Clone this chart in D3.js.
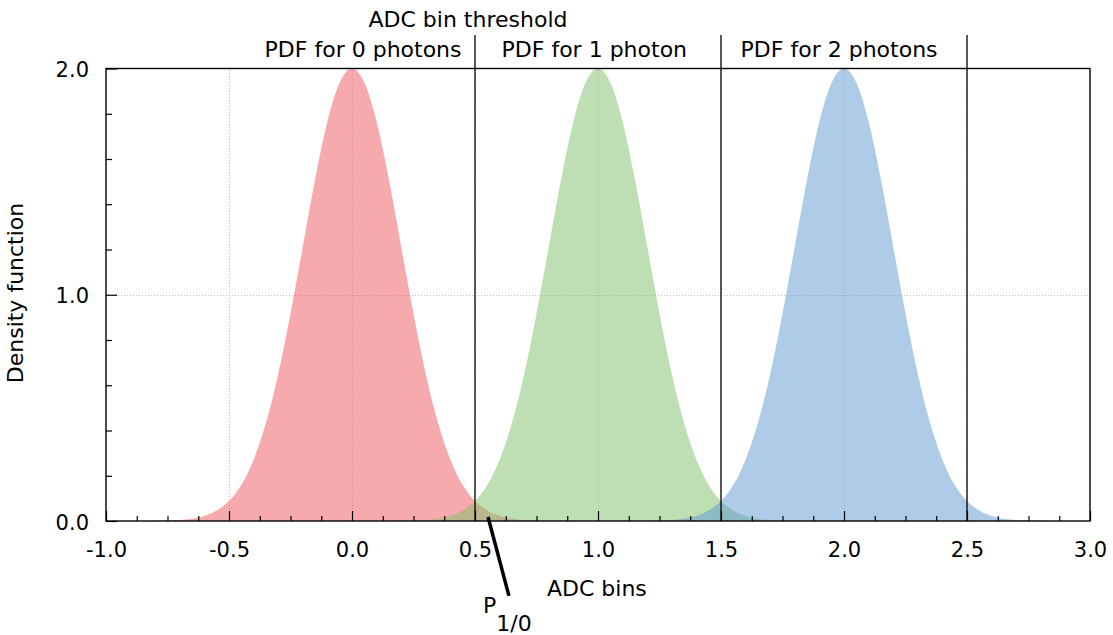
<!DOCTYPE html>
<html>
<head>
<meta charset="utf-8">
<script src="https://cdn.jsdelivr.net/npm/d3@7"></script>
<style>
  html, body { margin: 0; padding: 0; background: #fff; }
  svg { display: block; font-family: "DejaVu Sans", sans-serif; }
</style>
</head>
<body>
<svg id="chart" width="1113" height="635"></svg>
<script>
// ---- data ----
const adcValues = [
  -1.00,-0.95,-0.90,-0.85,-0.80,-0.75,-0.70,-0.65,-0.60,-0.55,-0.50,-0.45,-0.40,-0.35,-0.30,-0.25,-0.20,-0.15,-0.10,-0.05,
   0.00, 0.05, 0.10, 0.15, 0.20, 0.25, 0.30, 0.35, 0.40, 0.45, 0.50, 0.55, 0.60, 0.65, 0.70, 0.75, 0.80, 0.85, 0.90, 0.95,
   1.00, 1.05, 1.10, 1.15, 1.20, 1.25, 1.30, 1.35, 1.40, 1.45, 1.50, 1.55, 1.60, 1.65, 1.70, 1.75, 1.80, 1.85, 1.90, 1.95,
   2.00, 2.05, 2.10, 2.15, 2.20, 2.25, 2.30, 2.35, 2.40, 2.45, 2.50, 2.55, 2.60, 2.65, 2.70, 2.75, 2.80, 2.85, 2.90, 2.95,
   3.00
];
const pdf0Photons = [
  0,0,0,0,0.001,0.002,0.004,0.010,0.022,0.046,0.088,0.159,0.271,0.433,0.649,0.916,1.213,1.510,1.765,1.938,
  2.000,1.938,1.765,1.510,1.213,0.916,0.649,0.433,0.271,0.159,0.088,0.046,0.022,0.010,0.004,0.002,0.001,0,0,0,
  0,0,0,0,0,0,0,0,0,0,0,0,0,0,0,0,0,0,0,0,
  0,0,0,0,0,0,0,0,0,0,0,0,0,0,0,0,0,0,0,0,
  0
];
const pdf1Photon = [
  0,0,0,0,0,0,0,0,0,0,0,0,0,0,0,0,0,0,0,0,
  0,0,0,0,0.001,0.002,0.004,0.010,0.022,0.046,0.088,0.159,0.271,0.433,0.649,0.916,1.213,1.510,1.765,1.938,
  2.000,1.938,1.765,1.510,1.213,0.916,0.649,0.433,0.271,0.159,0.088,0.046,0.022,0.010,0.004,0.002,0.001,0,0,0,
  0,0,0,0,0,0,0,0,0,0,0,0,0,0,0,0,0,0,0,0,
  0
];
const pdf2Photons = [
  0,0,0,0,0,0,0,0,0,0,0,0,0,0,0,0,0,0,0,0,
  0,0,0,0,0,0,0,0,0,0,0,0,0,0,0,0,0,0,0,0,
  0,0,0,0,0.001,0.002,0.004,0.010,0.022,0.046,0.088,0.159,0.271,0.433,0.649,0.916,1.213,1.510,1.765,1.938,
  2.000,1.938,1.765,1.510,1.213,0.916,0.649,0.433,0.271,0.159,0.088,0.046,0.022,0.010,0.004,0.002,0.001,0,0,0,
  0
];
const seriesNames = ["PDF for 0 photons", "PDF for 1 photon", "PDF for 2 photons"];
const seriesLabelX = [0.045, 0.985, 1.98];
const thresholds = [0.5, 1.5, 2.5];
const xTickValues = [-1.0, -0.5, 0.0, 0.5, 1.0, 1.5, 2.0, 2.5, 3.0];
const xTickLabels = ["-1.0", "-0.5", "0.0", "0.5", "1.0", "1.5", "2.0", "2.5", "3.0"];
const yTickValues = [0.0, 1.0, 2.0];
const yTickLabels = ["0.0", "1.0", "2.0"];
const xGridValues = [-0.5, 0.0, 0.5, 1.0, 1.5, 2.0, 2.5];
const yGridValues = [1.0];
const pointerFrom = [0.553, 0.018];
const pointerTo = [0.638, -0.331];

// ---- layout ----
const svg = d3.select("#chart");
const L = 106, R = 1090, T = 68.5, B = 521;
const x = d3.scaleLinear().domain([-1, 3]).range([L, R]);
const y = d3.scaleLinear().domain([0, 2]).range([B, T]);
const colors = ["#ee555c", "#7dbf69", "#5d97d1"];
const series = [pdf0Photons, pdf1Photon, pdf2Photons];

// grid
const grid = svg.append("g").attr("stroke", "#bdbdbd").attr("stroke-width", 1).attr("stroke-dasharray", "1,2");
grid.selectAll("line.gx").data(xGridValues).join("line")
  .attr("x1", d => Math.round(x(d)) + 0.5).attr("x2", d => Math.round(x(d)) + 0.5)
  .attr("y1", B).attr("y2", T);
grid.selectAll("line.gy").data(yGridValues).join("line")
  .attr("x1", L).attr("x2", R)
  .attr("y1", d => Math.round(y(d)) + 0.5).attr("y2", d => Math.round(y(d)) + 0.5);

// areas
const area = d3.area()
  .x((d, i) => x(adcValues[i]))
  .y0(B)
  .y1(d => y(d))
  .curve(d3.curveMonotoneX);
svg.append("g").selectAll("path").data(series).join("path")
  .attr("d", d => area(d))
  .attr("fill", (d, i) => colors[i])
  .attr("fill-opacity", 0.5);

// axes (ticks inward)
const xMinor = d3.range(-1, 3.0001, 0.125).filter(v => Math.abs(v * 2 - Math.round(v * 2)) > 1e-6);
const yMinor = d3.range(0, 2.0001, 0.2).filter(v => Math.abs(v - Math.round(v)) > 1e-6);

const xAxisMajor = d3.axisBottom(x).tickValues(xTickValues).tickFormat((d, i) => xTickLabels[i]).tickSize(-10).tickPadding(0);
const gx = svg.append("g").attr("transform", `translate(0,${B})`).call(xAxisMajor);
gx.select(".domain").remove();
gx.selectAll("line").attr("stroke", "#000").attr("stroke-width", 1.2);
gx.selectAll("text").attr("font-size", 21).attr("font-family", "DejaVu Sans").attr("fill", "#000")
  .attr("y", 36).attr("dy", 0);
const gxm = svg.append("g").attr("transform", `translate(0,${B})`)
  .call(d3.axisBottom(x).tickValues(xMinor).tickFormat("").tickSize(-5));
gxm.select(".domain").remove();
gxm.selectAll("line").attr("stroke", "#000").attr("stroke-width", 1.2);

const yAxisMajor = d3.axisLeft(y).tickValues(yTickValues).tickFormat((d, i) => yTickLabels[i]).tickSize(-11).tickPadding(0);
const gy = svg.append("g").attr("transform", `translate(${L},0)`).call(yAxisMajor);
gy.select(".domain").remove();
gy.selectAll("line").attr("stroke", "#000").attr("stroke-width", 1.2);
gy.selectAll("text").attr("font-size", 21).attr("font-family", "DejaVu Sans").attr("fill", "#000")
  .attr("x", -17).attr("dy", 0).attr("y", 8);
const gym = svg.append("g").attr("transform", `translate(${L},0)`)
  .call(d3.axisLeft(y).tickValues(yMinor).tickFormat("").tickSize(-6));
gym.select(".domain").remove();
gym.selectAll("line").attr("stroke", "#000").attr("stroke-width", 1.2);

// frame
svg.append("rect").attr("x", L).attr("y", T).attr("width", R - L).attr("height", B - T)
  .attr("fill", "none").attr("stroke", "#000").attr("stroke-width", 1.4);

// threshold lines
svg.append("g").selectAll("line").data(thresholds).join("line")
  .attr("x1", d => x(d)).attr("x2", d => x(d))
  .attr("y1", 35).attr("y2", B)
  .attr("stroke", "#000").attr("stroke-width", 1.3);

// labels
svg.append("text").attr("x", x(0.4715)).attr("y", 27).attr("text-anchor", "middle")
  .attr("font-size", 22).text("ADC bin threshold");
svg.append("g").selectAll("text").data(seriesNames).join("text")
  .attr("x", (d, i) => x(seriesLabelX[i])).attr("y", 57).attr("text-anchor", "middle")
  .attr("font-size", 22).text(d => d);

svg.append("text").attr("transform", "translate(23,293) rotate(-90)").attr("text-anchor", "middle")
  .attr("font-size", 22).text("Density function");

svg.append("text").attr("x", 547).attr("y", 596).attr("font-size", 22).text("ADC bins");

const p = svg.append("text").attr("x", 483).attr("y", 613).attr("font-size", 22);
p.append("tspan").text("P");
p.append("tspan").attr("dy", 18).text("1/0");

svg.append("line")
  .attr("x1", x(pointerFrom[0])).attr("y1", y(pointerFrom[1]))
  .attr("x2", x(pointerTo[0])).attr("y2", y(pointerTo[1]))
  .attr("stroke", "#000").attr("stroke-width", 3.5);
</script>
</body>
</html>
